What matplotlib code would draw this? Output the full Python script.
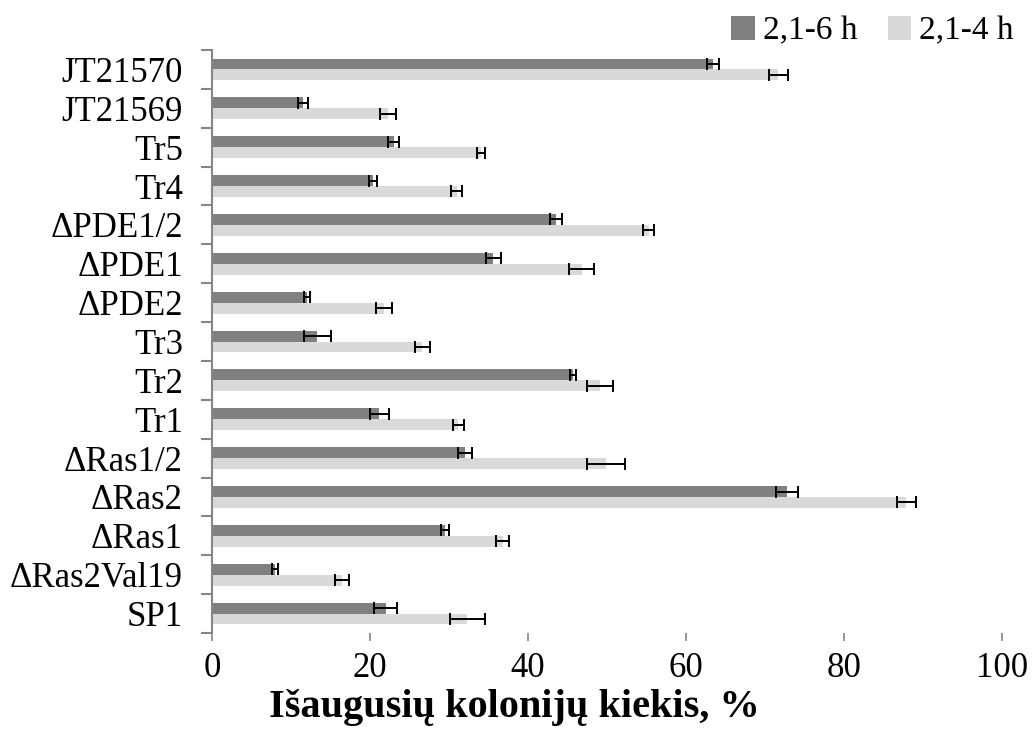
import numpy as np
import matplotlib
matplotlib.use('Agg')
import matplotlib.pyplot as plt
from matplotlib.patches import Patch

plt.rcParams['font.family'] = ['Liberation Serif', 'DejaVu Serif']

# kategorijos (iš viršaus į apačią)
categories = ['JT21570', 'JT21569', 'Tr5', 'Tr4', 'ΔPDE1/2', 'ΔPDE1', 'ΔPDE2', 'Tr3',
              'Tr2', 'Tr1', 'ΔRas1/2', 'ΔRas2', 'ΔRas1', 'ΔRas2Val19', 'SP1']

# 2,1-6 h
vals_6h = [63.4, 11.5, 23.0, 20.4, 43.5, 35.6, 12.0, 13.3, 45.7, 21.2, 32.0, 72.8, 29.5, 8.0, 22.0]
err_6h = [0.8, 0.6, 0.7, 0.5, 0.75, 0.95, 0.35, 1.7, 0.4, 1.2, 0.9, 1.4, 0.55, 0.4, 1.45]

# 2,1-4 h
vals_4h = [71.7, 22.3, 34.1, 31.0, 55.3, 46.8, 21.8, 26.6, 49.1, 31.2, 49.9, 87.9, 36.8, 16.5, 32.3]
err_4h = [1.2, 1.0, 0.5, 0.7, 0.7, 1.6, 1.0, 0.95, 1.6, 0.7, 2.4, 1.2, 0.8, 0.87, 2.2]

dark = '#808080'
light = '#d9d9d9'

n = len(categories)
y = np.arange(n)[::-1]
h = 0.28

fig = plt.figure(figsize=(10.32, 7.31), dpi=100)
ax = fig.add_axes([212 / 1032, 1 - 633 / 731, 790 / 1032, 583 / 731])

ax.barh(y + h / 2, vals_6h, height=h, color=dark, zorder=2)
ax.barh(y - h / 2, vals_4h, height=h, color=light, zorder=2)
ax.errorbar(vals_6h, y + h / 2, xerr=err_6h, fmt='none', ecolor='black',
            elinewidth=1.4, capsize=4, capthick=1.4, zorder=3)
ax.errorbar(vals_4h, y - h / 2, xerr=err_4h, fmt='none', ecolor='black',
            elinewidth=1.4, capsize=4, capthick=1.4, zorder=3)

ax.set_xlim(0, 100)
ax.set_ylim(-0.5, n - 0.5)

# x ašis
ax.set_xticks(np.arange(0, 101, 20))
ax.tick_params(axis='x', labelsize=25, length=6, width=1.2, color='#868686',
               direction='out', pad=8)

# y ašis: žymės tarp kategorijų
ax.set_yticks(y)
ax.set_yticklabels(categories)
ax.set_yticks(np.arange(-0.5, n, 1.0), minor=True)
ax.tick_params(axis='y', which='major', length=0, labelsize=25, pad=21)
ax.tick_params(axis='y', which='minor', length=8, width=1.5, color='#868686')

for s in ['top', 'right', 'bottom']:
    ax.spines[s].set_visible(False)
ax.spines['left'].set_color('#868686')
ax.spines['left'].set_linewidth(1.5)

fig.text(514 / 1032, 1 - 708 / 731, 'Išaugusių kolonijų kiekis, %', fontsize=29,
         fontweight='bold', ha='center', va='center')

handles = [Patch(facecolor=dark, label='2,1-6 h'), Patch(facecolor=light, label='2,1-4 h')]
fig.legend(handles=handles, loc='upper right', bbox_to_anchor=(1.005, 1.01), ncol=2,
           frameon=False, fontsize=24, handlelength=0.7, handleheight=0.7,
           handletextpad=0.25, columnspacing=0.9, borderaxespad=0.3)

fig.savefig('out.png', dpi=100)
